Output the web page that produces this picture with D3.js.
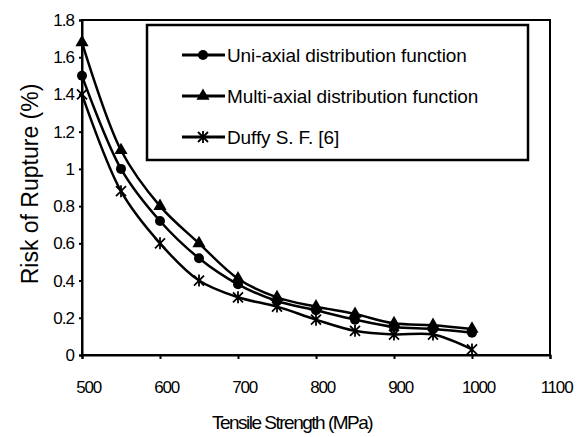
<!DOCTYPE html>
<html>
<head>
<meta charset="utf-8">
<script src="https://cdn.jsdelivr.net/npm/d3@7"></script>
<style>
  body { margin: 0; background: #fff; }
  text { font-family: "Liberation Sans", Arial, sans-serif; fill: #000; }
  .axis path, .axis line { stroke: #000; stroke-width: 2; }
  .line { fill: none; stroke: #000; stroke-width: 2.5; }
</style>
</head>
<body>
<script>
// data
var strength = [500, 550, 600, 650, 700, 750, 800, 850, 900, 950, 1000];
var uniAxial = [1.5, 1.0, 0.72, 0.52, 0.38, 0.29, 0.24, 0.19, 0.15, 0.14, 0.12];
var multiAxial = [1.68, 1.1, 0.8, 0.6, 0.41, 0.31, 0.26, 0.22, 0.17, 0.16, 0.14];
var duffy = [1.4, 0.88, 0.6, 0.4, 0.31, 0.26, 0.19, 0.13, 0.11, 0.11, 0.03];
var xTicks = [500, 600, 700, 800, 900, 1000, 1100];
var yTicks = [0, 0.2, 0.4, 0.6, 0.8, 1, 1.2, 1.4, 1.6, 1.8];
var seriesNames = ["Uni-axial distribution function", "Multi-axial distribution function", "Duffy S. F. [6]"];

var margin = {top: 20, right: 32, bottom: 82, left: 82},
    width = 582 - margin.left - margin.right,
    height = 437 - margin.top - margin.bottom;

var svg = d3.select("body")
    .append("svg")
    .attr("width", 582)
    .attr("height", 437)
    .append("g")
    .attr("transform", "translate(" + margin.left + "," + margin.top + ")");

var x = d3.scaleLinear().domain([500, 1100]).range([0, width]),
    y = d3.scaleLinear().domain([0, 1.8]).range([height, 0]);

var series = [
  {name: seriesNames[0], marker: "circle", values: uniAxial},
  {name: seriesNames[1], marker: "triangle", values: multiAxial},
  {name: seriesNames[2], marker: "star", values: duffy}
];

// plot border
svg.append("rect")
    .attr("width", width)
    .attr("height", height)
    .attr("fill", "none")
    .attr("stroke", "#000")
    .attr("stroke-width", 2);

var xAxis = d3.axisBottom(x).tickValues(xTicks).tickSize(4).tickPadding(22).tickFormat(d3.format("d"));
var yAxis = d3.axisLeft(y).tickValues(yTicks).tickSize(3).tickPadding(5)
    .tickFormat(function(d) { return d === 0 || d === 1 ? d : d3.format(".1f")(d); });

svg.append("g")
    .attr("class", "x axis")
    .attr("transform", "translate(0," + height + ")")
    .call(xAxis)
    .selectAll("text")
    .attr("dx", "6")
    .style("font-size", "17px")
    .style("letter-spacing", "-1.2px");

svg.append("g")
    .attr("class", "y axis")
    .call(yAxis)
    .selectAll("text")
    .style("font-size", "17px")
    .style("letter-spacing", "-1px");

svg.selectAll(".domain").attr("stroke-width", 3);

// axis titles
svg.append("text")
    .attr("x", width / 2 - 24)
    .attr("y", height + 74)
    .style("text-anchor", "middle")
    .style("font-size", "19px")
    .style("letter-spacing", "-1.5px")
    .text("Tensile Strength (MPa)");

svg.append("text")
    .attr("transform", "rotate(-90)")
    .attr("x", -164)
    .attr("y", -44)
    .style("text-anchor", "middle")
    .style("font-size", "23px")
    .text("Risk of Rupture (%)");

var line = d3.line()
    .curve(d3.curveCatmullRom)
    .x(function(d, i) { return x(strength[i]); })
    .y(function(d) { return y(d); });

function drawMarker(g, type, cx, cy) {
  if (type === "circle") {
    g.append("circle").attr("cx", cx).attr("cy", cy).attr("r", 5).attr("fill", "#000");
  } else if (type === "triangle") {
    g.append("path")
      .attr("d", d3.symbol().type(d3.symbolTriangle).size(75)())
      .attr("transform", "translate(" + cx + "," + cy + ")")
      .attr("fill", "#000");
  } else {
    var s = 5;
    g.append("path")
      .attr("d", "M" + (cx - s) + "," + (cy - s) + "L" + (cx + s) + "," + (cy + s) +
                 "M" + (cx - s) + "," + (cy + s) + "L" + (cx + s) + "," + (cy - s) +
                 "M" + cx + "," + (cy - s - 1) + "L" + cx + "," + (cy + s + 1))
      .attr("stroke", "#000")
      .attr("stroke-width", 1.8);
  }
}

var serie = svg.selectAll(".serie")
    .data(series)
    .enter().append("g")
    .attr("class", "serie");

serie.append("path")
    .attr("class", "line")
    .attr("d", function(d) { return line(d.values); });

serie.each(function(d) {
  var g = d3.select(this);
  d.values.forEach(function(v, i) { drawMarker(g, d.marker, x(strength[i]), y(v)); });
});

// legend
var legend = svg.append("g").attr("transform", "translate(65,5)");
legend.append("rect")
    .attr("width", 381)
    .attr("height", 135)
    .attr("fill", "#fff")
    .attr("stroke", "#000")
    .attr("stroke-width", 2.5);

series.forEach(function(d, i) {
  var ly = 30 + i * 41;
  var row = legend.append("g");
  row.append("line").attr("x1", 35).attr("x2", 78).attr("y1", ly).attr("y2", ly)
    .attr("stroke", "#000").attr("stroke-width", 3);
  drawMarker(row, d.marker, 56, ly);
  row.append("text")
    .attr("x", 80)
    .attr("y", ly)
    .attr("dy", "0.35em")
    .style("font-size", "19px")
    .style("letter-spacing", "-0.1px")
    .text(d.name);
});
</script>
</body>
</html>
